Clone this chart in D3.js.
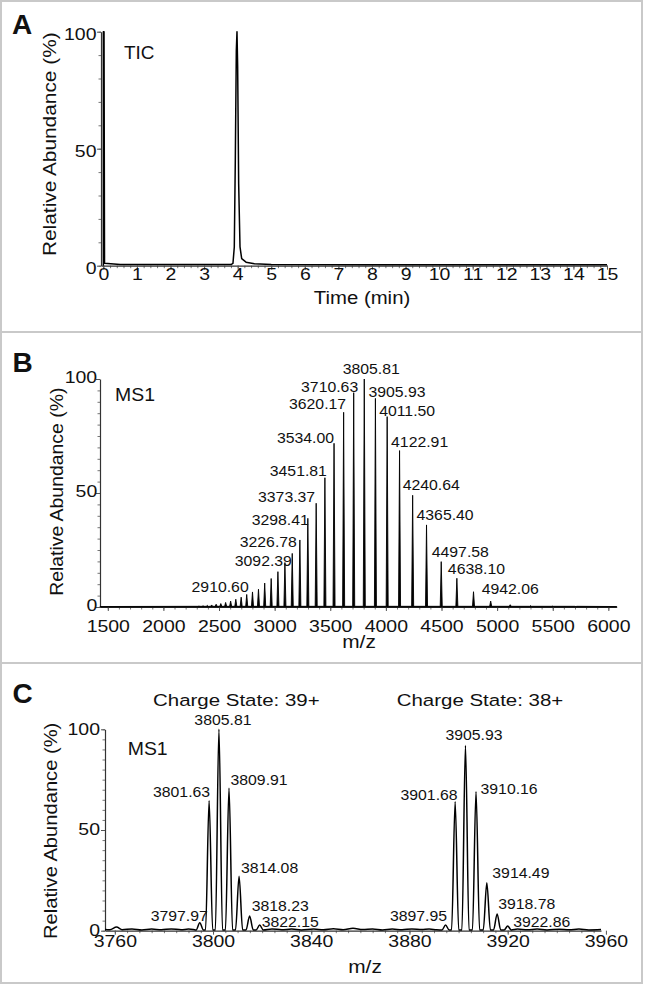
<!DOCTYPE html>
<html>
<head>
<meta charset="utf-8">
<script src="https://cdn.jsdelivr.net/npm/d3@7"></script>
<style>
  body { margin: 0; background: #fff; }
  svg { display: block; }
</style>
</head>
<body>
<svg id="fig" width="645" height="986"></svg>
<script>
// ---------- data ----------

// A: total ion chromatogram
var ticTime  = [0, 0, 0.02, 0.035, 0.5, 3.8, 3.86, 3.9, 3.93, 3.96, 3.98, 4.0, 4.03, 4.07, 4.12, 4.25, 4.5, 5, 8, 15];
var ticAbund = [0, 100, 100, 1.0, 0.5, 0.5, 1, 8, 45, 92, 100, 85, 35, 8, 3, 1.5, 0.8, 0.5, 0.4, 0.4];
var timeTicks = [0,1,2,3,4,5,6,7,8,9,10,11,12,13,14,15];
var abundTicks = [0, 50, 100];

// B: full MS1 spectrum, one peak per charge state
var ms1Mz = [2283.9, 2319.6, 2356.3, 2394.3, 2433.6, 2474.1, 2516.0, 2559.4, 2604.3, 2650.8,
             2699.0, 2748.9, 2800.8, 2854.6, 2910.60, 2968.8, 3029.4, 3092.39, 3158.2, 3226.78,
             3298.41, 3373.37, 3451.81, 3534.00, 3620.17, 3710.63, 3805.81, 3905.93, 4011.50, 4122.91,
             4240.64, 4365.40, 4497.58, 4638.10, 4787.7, 4942.06, 5117.9, 5300.6, 5496.8, 5708.2];
var ms1Abund = [0.3, 0.4, 0.5, 0.7, 0.9, 1.2, 1.5, 2.0, 2.6, 3.4,
                4.3, 5.5, 6.6, 7.8, 10.5, 12.5, 15.5, 19.5, 23.5, 29.4,
                38.9, 45.5, 56.7, 71.8, 85.4, 94, 100, 91.5, 83.5, 68.6,
                49, 36, 19.9, 12.6, 6.7, 2.6, 1.0, 0.6, 0.4, 0.2];
var ms1Labels = ["2910.60", "3092.39", "3226.78", "3298.41", "3373.37", "3451.81", "3534.00", "3620.17", "3710.63",
                 "3805.81", "3905.93", "4011.50", "4122.91", "4240.64", "4365.40", "4497.58", "4638.10", "4942.06"];
var mzTicks = [1500, 2000, 2500, 3000, 3500, 4000, 4500, 5000, 5500, 6000];

// C: zoom on charge states 39+ and 38+ (peak positions as they sit on the axis)
var zoomPeakMz    = [3794.6, 3798.4, 3802.4, 3806.5, 3810.6, 3814.9, 3819.0,
                     3894.7, 3898.6, 3902.8, 3907.1, 3911.5, 3915.7, 3920.0];
var zoomPeakAbund = [4, 64.5, 100, 70.7, 27, 7.3, 2.8,
                     2.8, 64, 92, 69, 23.8, 8.3, 2.3];
var zoomPeakLabel = ["3797.97", "3801.63", "3805.81", "3809.91", "3814.08", "3818.23", "3822.15",
                     "3897.95", "3901.68", "3905.93", "3910.16", "3914.49", "3918.78", "3922.86"];
var noiseMz    = [3756, 3758, 3760.7, 3763, 3767, 3771, 3775, 3779, 3783, 3787, 3790, 3792,
                  3824, 3828, 3832, 3836, 3841, 3845, 3849, 3853, 3857, 3861, 3865, 3869, 3873,
                  3877, 3881, 3885, 3888, 3891, 3924, 3928, 3932, 3936, 3941, 3945, 3949, 3953, 3958];
var noiseAbund = [0.6, 0.5, 1.8, 0.5, 0.9, 0.4, 0.8, 0.5, 0.9, 0.5, 0.8, 0.6,
                  0.9, 0.5, 0.8, 0.4, 0.8, 0.5, 1.0, 0.5, 1.2, 0.6, 0.9, 0.4, 0.8,
                  0.5, 0.9, 0.6, 0.8, 0.5, 0.8, 0.5, 0.8, 0.4, 0.7, 0.5, 0.8, 0.4, 0.6];
var zoomTicks = [3760, 3800, 3840, 3880, 3920, 3960];

// label placement (anchor, dx, dy from the peak top)
var ms1LabelPlace = [["end",-16,9],["end",7,3],["end",-3,7],["end",1,6.5],["end",-1,-1],["end",2,-1.5],
                     ["end",0,0],["end",2.5,-3],["end",4.5,-0.5],["middle",7,-5],["start",-7,-1],["start",-8,-1],
                     ["start",-8.5,-3.5],["start",-10,-5.5],["start",-10,-5],["start",-9.5,-4.5],["start",-9,-4.5],["start",-9,-7]];
var zoomLabelPlace = [["end",8,-2],["end",1,-4],["middle",4,-4],["start",1.5,-3],["start",2,-3],["start",2,-5],["start",2,2],
                      ["end",1.5,-4],["end",2.5,-2],["middle",8.5,-5],["start",4.5,2],["start",5.5,-4.5],["start",1,-4.7],["start",5.5,0.7]];

// ---------- drawing ----------
var FONT = "'Liberation Sans', Arial, Helvetica, sans-serif";
var INK = "#111";
var svg = d3.select("#fig");

svg.append("rect").attr("x", 1).attr("y", 1).attr("width", 641).attr("height", 982)
    .attr("fill", "#fff").attr("stroke", "#c9c9c9").attr("stroke-width", 2);
[332, 663].forEach(function(y){
    svg.append("line").attr("x1", 1).attr("x2", 642).attr("y1", y).attr("y2", y)
        .attr("stroke", "#c9c9c9").attr("stroke-width", 2);
});

// text that is a bit wider than the font, like the original
function txt(x, y, s, size, sx, anchor, rot, weight){
    return svg.append("text")
        .attr("transform", "translate(" + x + "," + y + ")" + (rot ? " rotate(" + rot + ")" : "") + " scale(" + sx + ",1)")
        .attr("text-anchor", anchor || "start")
        .attr("font-family", FONT).attr("font-size", size)
        .attr("font-weight", weight || "normal")
        .attr("fill", INK).text(s);
}

function axes(p){
    var y0 = p.y.range()[0], x0 = p.x.range()[0];
    // minor ticks
    svg.append("g").attr("transform", "translate(0," + y0 + ")")
        .call(d3.axisBottom(p.x).tickValues(p.xMinor).tickSize(2.5).tickSizeOuter(0).tickFormat(""))
        .call(function(g){ g.select(".domain").remove(); g.selectAll("line").attr("stroke", "#777"); });
    svg.append("g").attr("transform", "translate(" + x0 + ",0)")
        .call(d3.axisLeft(p.y).tickValues(p.yMinor).tickSize(2.5).tickSizeOuter(0).tickFormat(""))
        .call(function(g){ g.select(".domain").remove(); g.selectAll("line").attr("stroke", "#777"); });
    // major ticks + labels
    var gx = svg.append("g").attr("transform", "translate(0," + y0 + ")")
        .call(d3.axisBottom(p.x).tickValues(p.xTicks).tickSize(4).tickSizeOuter(0).tickFormat(d3.format("d")));
    gx.selectAll(".tick text").attr("y", p.xLabelY).attr("dy", null)
        .attr("font-family", FONT).attr("font-size", 16.5).attr("fill", INK)
        .attr("transform", "scale(1.18,1)")
        .attr("x", 0);
    var gy = svg.append("g").attr("transform", "translate(" + x0 + ",0)")
        .call(d3.axisLeft(p.y).tickValues(abundTicks).tickSize(4).tickSizeOuter(0).tickFormat(d3.format("d")));
    gy.selectAll(".tick text").attr("x", -p.yLabelGap / 1.18).attr("dy", p.yLabelDy)
        .attr("font-family", FONT).attr("font-size", 16.5).attr("fill", INK)
        .attr("transform", "scale(1.18,1)");
    [gx, gy].forEach(function(g){
        g.select(".domain").attr("stroke", "#333").attr("stroke-width", 1.2);
        g.selectAll(".tick line").attr("stroke", "#555");
    });
}

function peakLabels(x, y, mzs, abund, names, place, findIdx){
    names.forEach(function(name, i){
        var k = findIdx(name, i);
        var pl = place[i];
        txt(x(mzs[k]) + pl[1], y(abund[k]) + pl[2], name, 14, 1.13, pl[0]);
    });
}

// ----- panel A -----
var xA = d3.scaleLinear().domain([-0.07, 15]).range([101, 607]);
var yA = d3.scaleLinear().domain([0, 100]).range([265.7, 31.7]);
axes({x: xA, y: yA, xTicks: timeTicks, xMinor: d3.range(0, 15.01, 0.2), yMinor: d3.range(0, 101, 10),
      xLabelY: 14.8, yLabelGap: 4.5, yLabelDy: "0.5em"});
svg.append("path")
    .datum(ticTime.map(function(t, i){ return [t, ticAbund[i]]; }))
    .attr("fill", "none").attr("stroke", "#000").attr("stroke-width", 1.5).attr("stroke-linejoin", "round")
    .attr("d", d3.line().x(function(d){ return xA(d[0]); }).y(function(d){ return yA(d[1]); }));
txt(12, 33.5, "A", 28, 1, "start", 0, "bold");
txt(124, 59.3, "TIC", 18, 1.05);
txt(56, 144.2, "Relative Abundance (%)", 18.5, 1.128, "middle", -90);
txt(362, 304, "Time (min)", 18.5, 1.1, "middle");

// ----- panel B -----
var xB = d3.scaleLinear().domain([1430, 6075]).range([100, 616.7]);
var yB = d3.scaleLinear().domain([0, 100]).range([607, 379]);
axes({x: xB, y: yB, xTicks: mzTicks, xMinor: d3.range(1500, 6001, 100), yMinor: d3.range(0, 101, 5),
      xLabelY: 24.7, yLabelGap: 2.8, yLabelDy: "0.2em"});
var halfB = 9;
var ptsB = [[1430, 0.2]];
ms1Mz.forEach(function(m, i){
    ptsB.push([m - halfB, 0.3], [m, ms1Abund[i]], [m + halfB, 0.3]);
});
ptsB.push([6075, 0.2]);
svg.append("path").datum(ptsB)
    .attr("fill", "#000").attr("stroke", "#000").attr("stroke-width", 0.9).attr("stroke-linejoin", "round")
    .attr("d", d3.area().x(function(d){ return xB(d[0]); }).y0(yB(0)).y1(function(d){ return yB(d[1]); }));
peakLabels(xB, yB, ms1Mz, ms1Abund, ms1Labels, ms1LabelPlace,
    function(name){ return ms1Mz.indexOf(+name); });
txt(12.5, 371.7, "B", 28, 1, "start", 0, "bold");
txt(115, 401, "MS1", 18, 1.08);
txt(62.6, 491.7, "Relative Abundance (%)", 18.5, 1.05, "middle", -90);
txt(359, 648, "m/z", 18.5, 1.13, "middle");

// ----- panel C -----
var xC = d3.scaleLinear().domain([3756, 3958]).range([105, 601]);
var yC = d3.scaleLinear().domain([0, 100]).range([930.7, 729.3]);
axes({x: xC, y: yC, xTicks: zoomTicks, xMinor: d3.range(3760, 3958, 5), yMinor: d3.range(0, 101, 5),
      xLabelY: 16, yLabelGap: 5, yLabelDy: "0.3em"});
var halfC = 1.45;
var ptsC = noiseMz.map(function(m, i){ return [m, noiseAbund[i]]; });
zoomPeakMz.forEach(function(m, i){
    ptsC.push([m - halfC, 0.4], [m, zoomPeakAbund[i]], [m + halfC, 0.4]);
});
ptsC.sort(function(a, b){ return a[0] - b[0]; });
svg.append("path").datum(ptsC)
    .attr("fill", "none").attr("stroke", "#000").attr("stroke-width", 1.5).attr("stroke-linejoin", "round")
    .attr("d", d3.line().curve(d3.curveMonotoneX)
        .x(function(d){ return xC(d[0]); }).y(function(d){ return yC(d[1]); }));
peakLabels(xC, yC, zoomPeakMz, zoomPeakAbund, zoomPeakLabel, zoomLabelPlace,
    function(name, i){ return i; });
txt(12.5, 703.3, "C", 28, 1, "start", 0, "bold");
txt(236.3, 705.7, "Charge State: 39+", 17.2, 1.19, "middle");
txt(480, 705.7, "Charge State: 38+", 17.2, 1.19, "middle");
txt(127.7, 755, "MS1", 18, 1.08);
txt(56.7, 830.8, "Relative Abundance (%)", 18.5, 1.09, "middle", -90);
txt(365, 973, "m/z", 18.5, 1.13, "middle");
</script>
</body>
</html>
